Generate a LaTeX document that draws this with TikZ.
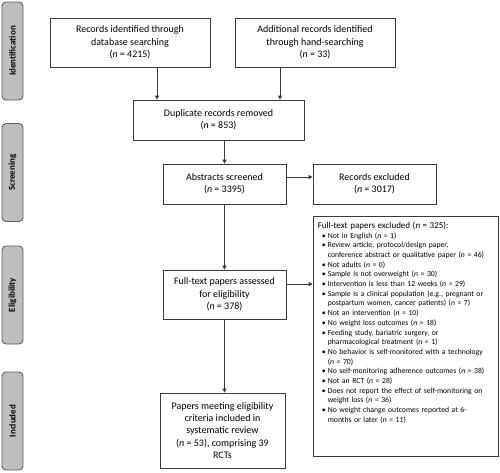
\documentclass[tikz,border=0pt]{standalone}
\usepackage{fontspec}
\setmainfont{Carlito}
\usetikzlibrary{arrows.meta,calc}
\definecolor{linec}{HTML}{3A3A3A}
\definecolor{sidefill}{HTML}{BEBEBE}
\definecolor{sideline}{HTML}{5E5E5E}
\tikzset{
  box/.style={draw=linec, line width=0.8pt, align=center, inner sep=2pt,
    font=\fontsize{10}{12.3}\selectfont},
  side/.style={draw=sideline, fill=sidefill, line width=0.9pt, rounded corners=4pt,
    rotate=90, minimum width=98pt, minimum height=21pt, inner sep=0pt,
    font=\fontsize{9}{10}\selectfont\bfseries},
  arr/.style={draw=linec, line width=0.8pt, -{Triangle[length=4pt,width=4pt]}}
}
\newcommand{\nn}{\textit{n}}
\newcommand{\bitem}[1]{{\hangindent=10pt\hangafter=1\noindent\makebox[10pt][l]{\hspace{4pt}\textbullet}#1\par}}
\begin{document}
\begin{tikzpicture}[x=1pt,y=-1pt]
\useasboundingbox (0,0) rectangle (500,472);
% side labels
\node[side] (sid) at (12.5,51) {Identification};
\node[side] (sscr) at (12.5,172.5) {Screening};
\node[side] (selig) at (12.5,295) {Eligibility};
\node[side] (sinc) at (12.5,421) {Included};
% boxes
\node[box, minimum width=160pt, minimum height=49pt] (db) at (130,42.5)
  {Records identified through\\database searching\\(\nn{} = 4215)};
\node[box, minimum width=160pt, minimum height=49pt] (hand) at (315,42.5)
  {Additional records identified\\through hand-searching\\(\nn{} = 33)};
\node[box, minimum width=171pt, minimum height=40pt] (dup) at (218.5,120)
  {Duplicate records removed\\(\nn{} = 853)};
\node[box, minimum width=123pt, minimum height=40pt] (abs) at (224.5,184)
  {Abstracts screened\\(\nn{} = 3395)};
\node[box, minimum width=123pt, minimum height=40pt] (rex) at (374.5,184)
  {Records excluded\\(\nn{} = 3017)};
\node[box, minimum width=123pt, minimum height=49pt] (ft) at (224.5,294.5)
  {Full-text papers assessed\\for eligibility\\(\nn{} = 378)};
\node[box, minimum width=185pt, minimum height=240pt] (exc) at (405.5,336) {};
\node[box, minimum width=125pt, minimum height=75pt] (inc) at (222.5,430.5)
  {Papers meeting eligibility\\criteria included in\\systematic review\\(\nn{} = 53), comprising 39\\RCTs};
% exclusion list
\node[anchor=north west, inner sep=0pt, text width=182pt, align=left,
  font=\fontsize{7.7}{9.7}\selectfont] (exlist) at ([xshift=5pt,yshift=-6pt]exc.north west)
  {{\fontsize{9}{12.5}\selectfont Full-text papers excluded (\nn{} = 325):\par}
   \bitem{Not in English (\nn{} = 1)}
   \bitem{Review article, protocol/design paper,\newline conference abstract or qualitative paper (\nn{} = 46)}
   \bitem{Not adults (\nn{} = 0)}
   \bitem{Sample is not overweight (\nn{} = 30)}
   \bitem{Intervention is less than 12 weeks (\nn{} = 29)}
   \bitem{Sample is a clinical population (e.g., pregnant or\newline postpartum women, cancer patients) (\nn{} = 7)}
   \bitem{Not an intervention (\nn{} = 10)}
   \bitem{No weight loss outcomes (\nn{} = 18)}
   \bitem{Feeding study, bariatric surgery, or\newline pharmacological treatment (\nn{} = 1)}
   \bitem{No behavior is self-monitored with a technology\newline (\nn{} = 70)}
   \bitem{No self-monitoring adherence outcomes (\nn{} = 38)}
   \bitem{Not an RCT (\nn{} = 28)}
   \bitem{Does not report the effect of self-monitoring on\newline weight loss (\nn{} = 36)}
   \bitem{No weight change outcomes reported at 6-\newline months or later (\nn{} = 11)}};
% connectors
\draw[arr] ([xshift=27pt]db.south) -- ([xshift=27pt]db.south |- dup.north);
\draw[arr] ([xshift=-35pt]hand.south) -- ([xshift=-35pt]hand.south |- dup.north);
\draw[arr] (abs.north |- dup.south) -- (abs.north);
\draw[arr] ([yshift=7pt]abs.east) -- ([yshift=7pt]abs.east -| rex.west);
\draw[arr] (abs.south) -- (ft.north);
\draw[arr] ([yshift=10.5pt]ft.east) -- ([yshift=10.5pt]ft.east -| exc.west);
\draw[arr] (ft.south) -- (ft.south |- inc.north);
\end{tikzpicture}
\end{document}
